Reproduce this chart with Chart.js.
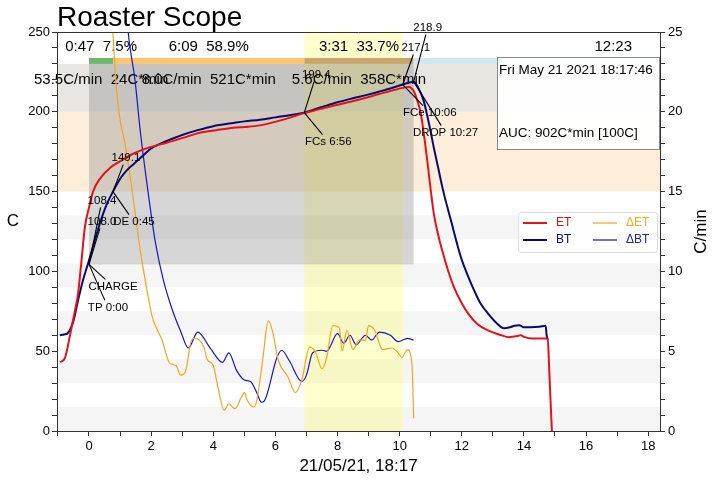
<!DOCTYPE html>
<html>
<head>
<meta charset="utf-8">
<script src="https://cdn.jsdelivr.net/npm/chart.js@4"></script>
<style>
body { margin: 0; background: #fff; }
</style>
</head>
<body>
<canvas id="myChart" width="715" height="480"></canvas>
<script>
// roast profile, time in minutes from CHARGE
const etTime = [-0.93, -0.77, -0.6, -0.45, -0.36, -0.25, -0.13, 0, 0.13, 0.35, 0.68, 1.0, 1.42, 2.0, 2.5, 3.0, 3.6, 4.1, 4.65, 5.0, 5.5, 6.05, 6.5, 6.9, 7.4, 7.9, 8.45, 8.95, 9.5, 10.1, 10.3, 10.45, 10.6, 10.68, 10.8, 10.9, 11.0, 11.1, 11.25, 11.4, 11.55, 11.75, 12.0, 12.2, 12.5, 12.84, 13.2, 13.5, 13.8, 13.9, 14.0, 14.3, 14.77, 14.8, 14.85, 14.9]
const etTemp = [43, 46, 61, 75.6, 85, 105, 128, 140, 150, 158, 165, 169, 173.7, 178, 180.6, 183.5, 187, 188.5, 190, 190.5, 191.5, 194, 196.5, 199, 201.5, 204, 206.5, 209, 212, 215, 215.6, 213, 205, 199, 183, 167.5, 151, 136, 122, 111, 101, 90, 80, 73.7, 67, 63, 60.5, 58.8, 59.5, 60, 59, 58, 58, 45, 22, 0]

const btTime = [-0.94, -0.8, -0.7, -0.6, -0.5, -0.35, -0.2, -0.03, 0.15, 0.35, 0.55, 0.77, 1.0, 1.2, 1.45, 1.65, 2.0, 2.3, 2.6, 3.0, 3.5, 4.0, 4.65, 5.0, 5.5, 6.0, 6.5, 6.93, 7.5, 8.0, 8.5, 8.95, 9.5, 10.1, 10.3, 10.45, 10.6, 10.77, 10.95, 11.1, 11.25, 11.4, 11.65, 11.97, 12.2, 12.4, 12.6, 12.84, 13.1, 13.36, 13.55, 13.7, 13.85, 14.0, 14.2, 14.5, 14.7, 14.73, 14.77]
const btTemp = [60, 60.5, 61, 64, 69, 82, 94, 105, 117, 130, 141, 150, 158, 163, 167.5, 171, 177, 180, 182.5, 185.5, 188.5, 191, 193, 194, 195, 196.5, 198, 199.5, 203, 206, 208.5, 210.6, 213.5, 217.1, 218.3, 218.9, 215, 207, 192, 177.5, 164, 150.6, 132, 109, 97, 88, 80, 73.7, 68, 64.4, 65, 66, 66.3, 65, 65, 65.3, 66, 60, 57]

const detTime = [0.7, 0.77, 0.88, 1.0, 1.16, 1.4, 1.65, 1.87, 2.03, 2.16, 2.35, 2.6, 2.8, 2.95, 3.1, 3.3, 3.4, 3.7, 3.8, 4.0, 4.15, 4.35, 4.5, 4.7, 4.9, 5.0, 5.1, 5.3, 5.4, 5.6, 5.77, 5.9, 6.1, 6.4, 6.65, 6.85, 7.1, 7.3, 7.5, 7.65, 7.85, 8.05, 8.15, 8.3, 8.5, 8.7, 8.9, 9.0, 9.2, 9.45, 9.75, 9.95, 10.07, 10.25, 10.4, 10.45]
const detRate = [28, 25, 21.5, 19.5, 18, 14.9, 11.3, 8.8, 7.2, 6.5, 5.7, 4.25, 4.1, 3.5, 3.7, 5.7, 5.8, 5.25, 4.5, 4.1, 2.75, 1.3, 1.7, 1.4, 2.1, 2.4, 1.9, 1.5, 1.9, 4.6, 6.9, 6.3, 4.4, 3.4, 2.4, 3.2, 5.25, 4.9, 3.9, 4.6, 6.6, 6.5, 5.0, 6.3, 5.1, 5.7, 5.7, 6.6, 6.3, 5.1, 5.2, 4.9, 4.6, 5.1, 4.1, 0.8]

const dbtTime = [1.15, 1.26, 1.48, 1.65, 1.9, 2.13, 2.4, 2.68, 2.94, 3.2, 3.5, 3.9, 4.3, 4.5, 4.75, 5.0, 5.2, 5.4, 5.55, 5.65, 6.05, 6.2, 6.45, 6.85, 7.0, 7.2, 7.5, 7.65, 8.0, 8.2, 8.4, 8.6, 8.9, 9.1, 9.35, 9.7, 9.95, 10.25, 10.45]
const dbtRate = [28, 25, 22, 18.8, 15, 11.9, 9.4, 7.6, 6.3, 5.2, 6.2, 5.2, 4.3, 4.9, 3.8, 3.2, 3.1, 2.4, 1.8, 1.9, 4.6, 5.06, 4.4, 3.1, 3.5, 4.9, 5.06, 5.0, 6.1, 5.5, 6.0, 5.4, 6.0, 5.7, 6.2, 6.0, 5.6, 5.8, 5.7]

// phases
const phaseStart = [0, 0.78, 6.93, 10.45]
const phaseEnd = [0.78, 6.93, 10.45, 23.3]
const phaseTime = ['0:47', '6:09', '3:31', '12:23']
const phasePct = ['7.5%', '58.9%', '33.7%', '']
const phaseRoR = ['53.5C/min', '8.0C/min', '5.6C/min', '']
const phaseAUC = ['24C*min', '521C*min', '358C*min', '']

// events
const eventLabels = ['CHARGE', 'TP 0:00', 'DE 0:45', 'FCs 6:56', 'FCe 10:06', 'DROP 10:27']
const eventTime = [0, 0, 0.77, 6.93, 10.1, 10.45]
const eventTemp = [104.4, 104.4, 150, 199.5, 217.1, 218.9]
const eventTempText = ['108.4', '108.0', '149.1', '199.4', '217.1', '218.9']

const stripeBands = [[0, 15], [30, 45], [60, 75], [90, 105], [120, 135]]
const aucBase = 104.4

const FONT = '"Liberation Sans", Arial, sans-serif'

const toPoints = (ts, vs) => ts.map((t, i) => ({x: t, y: vs[i]}))
const steps = (a, b, s) => { let out = []; for (let v = a; v <= b + 1e-9; v += s) out.push({value: Math.round(v * 100) / 100}); return out }

// text offsets (px) of the temp note and the event note, from the event point
const noteOffsets = [[13, -64, 24, 22], [13, -43, 19, 43], [13, -34, 21, 30], [12, -38, 24, 29], [13, -37, 27, 28], [14, -54, 32, 51]]

function drawNote(ctx, px, py, text, dx, dy) {
    const cx = px + dx, cy = py + dy
    const w = ctx.measureText(text).width / 2 + 1, h = 7
    const ex = px - cx, ey = py - cy
    const k = Math.min(ex !== 0 ? w / Math.abs(ex) : 1e9, ey !== 0 ? h / Math.abs(ey) : 1e9)
    ctx.beginPath()
    ctx.moveTo(px, py)
    ctx.lineTo(cx + ex * k, cy + ey * k)
    ctx.stroke()
    ctx.fillText(text, cx, cy)
}

const scopeBackground = {
    id: 'scopeBackground',
    beforeDraw(chart) {
        const {ctx, chartArea: a, scales: {x, y}} = chart
        ctx.save()
        ctx.fillStyle = '#fff'
        ctx.fillRect(0, 0, chart.width, chart.height)
        ctx.beginPath()
        ctx.rect(a.left, a.top, a.width, a.height)
        ctx.clip()

        ctx.fillStyle = '#f5f5f5'
        stripeBands.forEach(([lo, hi]) => {
            const t = y.getPixelForValue(hi), b = y.getPixelForValue(lo)
            ctx.fillRect(a.left, t, a.width, b - t)
        })
        // phase temperature zones
        let p150 = y.getPixelForValue(150), p200 = y.getPixelForValue(200), p230 = y.getPixelForValue(230)
        ctx.fillStyle = '#fdeedb'
        ctx.fillRect(a.left, p200, a.width, p150 - p200)
        ctx.fillStyle = '#e9e5e0'
        ctx.fillRect(a.left, p230, a.width, p200 - p230)

        // first crack window
        let fx0 = x.getPixelForValue(eventTime[3]), fx1 = x.getPixelForValue(eventTime[4])
        ctx.fillStyle = 'rgba(255,255,60,0.25)'
        ctx.fillRect(fx0, a.top, fx1 - fx0, a.height)

        // AUC area
        let ax0 = x.getPixelForValue(0), ax1 = x.getPixelForValue(eventTime[5])
        let ay = y.getPixelForValue(aucBase)
        ctx.fillStyle = 'rgba(120,120,120,0.3)'
        ctx.fillRect(ax0, p230, ax1 - ax0, ay - p230)

        // phase bars
        const barColors = ['#6cb86c', '#fbc56e', '#c9a46c', '#cfe8f0']
        let bTop = y.getPixelForValue(233.75)
        ctx.font = '15px ' + FONT
        ctx.textAlign = 'center'
        ctx.textBaseline = 'middle'
        phaseStart.forEach((s, i) => {
            let l = x.getPixelForValue(s), r = x.getPixelForValue(phaseEnd[i])
            ctx.fillStyle = barColors[i]
            ctx.fillRect(l, bTop, r - l, p230 - bTop)
        })
        ctx.restore()

        ctx.save()
        ctx.font = '15px ' + FONT
        ctx.textAlign = 'center'
        ctx.textBaseline = 'middle'
        ctx.fillStyle = '#000'
        phaseStart.forEach((s, i) => {
            let c = (x.getPixelForValue(s) + x.getPixelForValue(phaseEnd[i])) / 2
            let top = phasePct[i] ? phaseTime[i] + '  ' + phasePct[i] : phaseTime[i]
            ctx.fillText(top, c, bTop - 11)
            if (phaseRoR[i]) ctx.fillText(phaseRoR[i] + '  ' + phaseAUC[i], c, p230 + 16)
        })
        ctx.restore()
    },
    afterDatasetsDraw(chart) {
        const {ctx, chartArea: a, scales: {x, y}} = chart
        ctx.save()
        // frame top
        ctx.strokeStyle = '#333'
        ctx.lineWidth = 1
        ctx.beginPath()
        ctx.moveTo(a.left, a.top + 0.5)
        ctx.lineTo(a.right, a.top + 0.5)
        ctx.stroke()

        // event notes
        ctx.font = '11.5px ' + FONT
        ctx.textAlign = 'center'
        ctx.textBaseline = 'middle'
        ctx.fillStyle = '#000'
        ctx.strokeStyle = '#000'
        ctx.lineWidth = 1.1
        eventLabels.forEach((lab, i) => {
            let px = x.getPixelForValue(eventTime[i]), py = y.getPixelForValue(eventTemp[i])
            let o = noteOffsets[i]
            drawNote(ctx, px, py, eventTempText[i], o[0], o[1])
            drawNote(ctx, px, py, lab, o[2], o[3])
        })

        // info box
        let bx = a.right - 163, by = a.top + 25
        ctx.fillStyle = 'rgba(255,255,255,0.95)'
        ctx.fillRect(bx, by, 163, 93)
        ctx.strokeStyle = '#888'
        ctx.lineWidth = 1
        ctx.strokeRect(bx + 0.5, by + 0.5, 162, 92)
        ctx.fillStyle = '#000'
        ctx.font = '13.5px ' + FONT
        ctx.textAlign = 'left'
        ctx.fillText('Fri May 21 2021 18:17:46', bx + 2, by + 13)
        ctx.fillText('AUC: 902C*min [100C]', bx + 2, by + 76)

        // legend
        let lx = a.right - 142, ly = 212
        ctx.fillStyle = 'rgba(255,255,255,0.9)'
        ctx.strokeStyle = '#ddd'
        ctx.beginPath()
        ctx.roundRect(lx + 0.5, ly + 0.5, 139, 40, 3)
        ctx.fill()
        ctx.stroke()
        ctx.font = '12px ' + FONT
        const textColors = ['#cc1a1a', '#0a0a60', '#f0b020', '#2222a0']
        chart.data.datasets.forEach((ds, i) => {
            let col = i < 2 ? 0 : 1, row = i % 2
            let x0 = lx + 5 + col * 70, yy = ly + 11 + row * 17
            ctx.strokeStyle = ds.borderColor
            ctx.lineWidth = ds.borderWidth
            ctx.beginPath()
            ctx.moveTo(x0, yy)
            ctx.lineTo(x0 + 24, yy)
            ctx.stroke()
            ctx.fillStyle = textColors[i]
            ctx.fillText(ds.label, x0 + 33, yy)
        })

        // title and axis titles
        ctx.fillStyle = '#000'
        ctx.font = '28px ' + FONT
        ctx.textAlign = 'left'
        ctx.textBaseline = 'alphabetic'
        ctx.fillText('Roaster Scope', a.left, 26)
        ctx.font = '17px ' + FONT
        ctx.textAlign = 'center'
        ctx.textBaseline = 'middle'
        ctx.fillText('21/05/21, 18:17', (a.left + a.right) / 2, 466)
        ctx.fillText('C', 13, 221)
        ctx.translate(701, (a.top + a.bottom) / 2)
        ctx.rotate(-Math.PI / 2)
        ctx.fillText('C/min', 0, 0)
        ctx.restore()
    }
}

const tickGrid = {drawOnChartArea: false, drawTicks: true, tickLength: 5, color: '#333'}
const tickFont = {family: FONT, size: 13}

const ctx = document.getElementById('myChart').getContext('2d')
const myChart = new Chart(ctx, {
    type: 'line',
    data: {
        datasets: [
            {label: 'ET', data: toPoints(etTime, etTemp), borderColor: '#e3121b', borderWidth: 2, yAxisID: 'y'},
            {label: 'BT', data: toPoints(btTime, btTemp), borderColor: '#0a0a70', borderWidth: 2, yAxisID: 'y'},
            {label: '\u0394ET', data: toPoints(detTime, detRate), borderColor: '#f5a41e', borderWidth: 1.2, yAxisID: 'y1'},
            {label: '\u0394BT', data: toPoints(dbtTime, dbtRate), borderColor: '#1515c8', borderWidth: 1.2, yAxisID: 'y1'},
        ]
    },
    options: {
        responsive: false,
        animation: false,
        layout: {padding: {top: 32, left: 0, right: 0, bottom: 0}},
        elements: {
            point: {radius: 0},
            line: {cubicInterpolationMode: 'monotone', fill: false}
        },
        plugins: {
            legend: {display: false},
            tooltip: {enabled: false},
        },
        scales: {
            x: {
                type: 'linear',
                min: -1.03,
                max: 18.38,
                afterBuildTicks: s => { s.ticks = steps(-1, 18, 1) },
                afterFit: s => { s.height = 49 },
                ticks: {autoSkip: false, maxRotation: 0, padding: 3, color: '#000', font: tickFont,
                    callback: v => v % 2 === 0 ? v : ''},
                grid: tickGrid,
                border: {color: '#333'},
            },
            y: {
                position: 'left',
                min: 0,
                max: 250,
                afterBuildTicks: s => { s.ticks = steps(0, 250, 10) },
                afterFit: s => { s.width = 57 },
                ticks: {autoSkip: false, padding: 2, color: '#000', font: tickFont,
                    callback: v => v % 50 === 0 ? v : ''},
                grid: tickGrid,
                border: {color: '#333'},
            },
            y1: {
                position: 'right',
                min: 0,
                max: 25,
                afterBuildTicks: s => { s.ticks = steps(0, 25, 1) },
                afterFit: s => { s.width = 55 },
                ticks: {autoSkip: false, padding: 3, color: '#000', font: tickFont,
                    callback: v => v % 5 === 0 ? v : ''},
                grid: tickGrid,
                border: {color: '#333'},
            },
        }
    },
    plugins: [scopeBackground]
})
</script>
</body>
</html>
